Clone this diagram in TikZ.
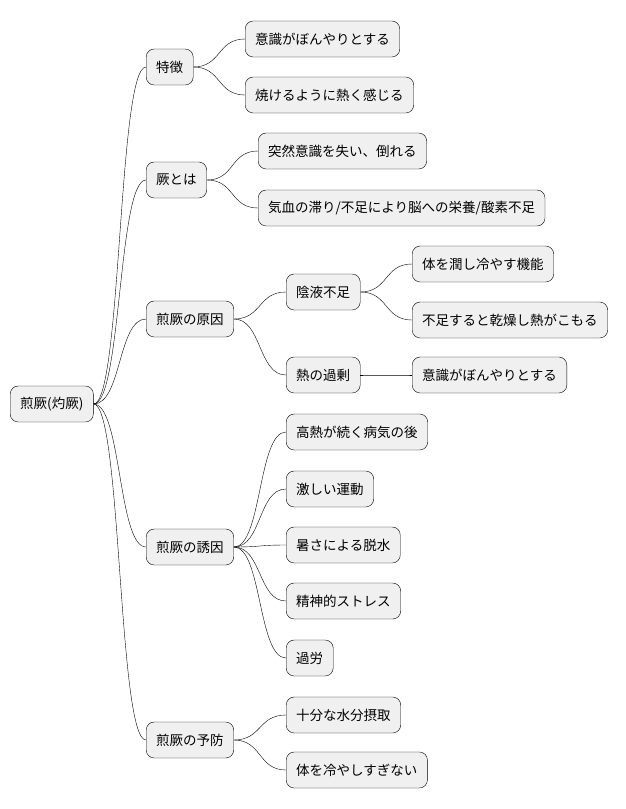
\documentclass[tikz,border=0pt]{standalone}
\usepackage{fontspec}
\setmainfont{Noto Sans CJK JP}
\usetikzlibrary{positioning}

\begin{document}
\begin{tikzpicture}[x=1pt,y=-1pt,
	every node/.style={draw,rounded corners=8pt,fill=gray!12,anchor=west,minimum height=36pt,inner xsep=10pt,font=\fontsize{13.5}{15}\selectfont},
	link/.style={draw,thin}]
		\useasboundingbox (0,0) rectangle (625,809);
		%root
		\node (root) at (10,404) {煎厥(灼厥)};

		%first level
		\node (tok) at (146,67) {特徴};
		\node (ketsu) at (146,180) {厥とは};
		\node (gen) at (146,319) {煎厥の原因};
		\node (yuin) at (146,547) {煎厥の誘因};
		\node (yobo) at (146,740) {煎厥の予防};

		%second level
		\node (t1) at (245,39) {意識がぼんやりとする};
		\node (t2) at (245,95) {焼けるように熱く感じる};
		\node (k1) at (258,151) {突然意識を失い、倒れる};
		\node (k2) at (258,208) {気血の滞り/不足により脳への栄養/酸素不足};
		\node (g1) at (286,292) {陰液不足};
		\node (g2) at (286,375) {熱の過剰};
		\node (y1) at (286,432) {高熱が続く病気の後};
		\node (y2) at (286,489) {激しい運動};
		\node (y3) at (286,545) {暑さによる脱水};
		\node (y4) at (286,601) {精神的ストレス};
		\node (y5) at (286,658) {過労};
		\node (p1) at (286,715) {十分な水分摂取};
		\node (p2) at (286,770) {体を冷やしすぎない};

		%third level
		\node (g11) at (412,264) {体を潤し冷やす機能};
		\node (g12) at (412,320) {不足すると乾燥し熱がこもる};
		\node (g21) at (412,375) {意識がぼんやりとする};

		%edges
		\foreach \a/\b in {root/tok,root/ketsu,root/gen,root/yuin,root/yobo,
			tok/t1,tok/t2,ketsu/k1,ketsu/k2,gen/g1,gen/g2,
			yuin/y1,yuin/y2,yuin/y3,yuin/y4,yuin/y5,yobo/p1,yobo/p2,
			g1/g11,g1/g12,g2/g21}
			\draw[link] (\a.east) .. controls +(28,0) and +(-28,0) .. (\b.west);
	\end{tikzpicture}
\end{document}
